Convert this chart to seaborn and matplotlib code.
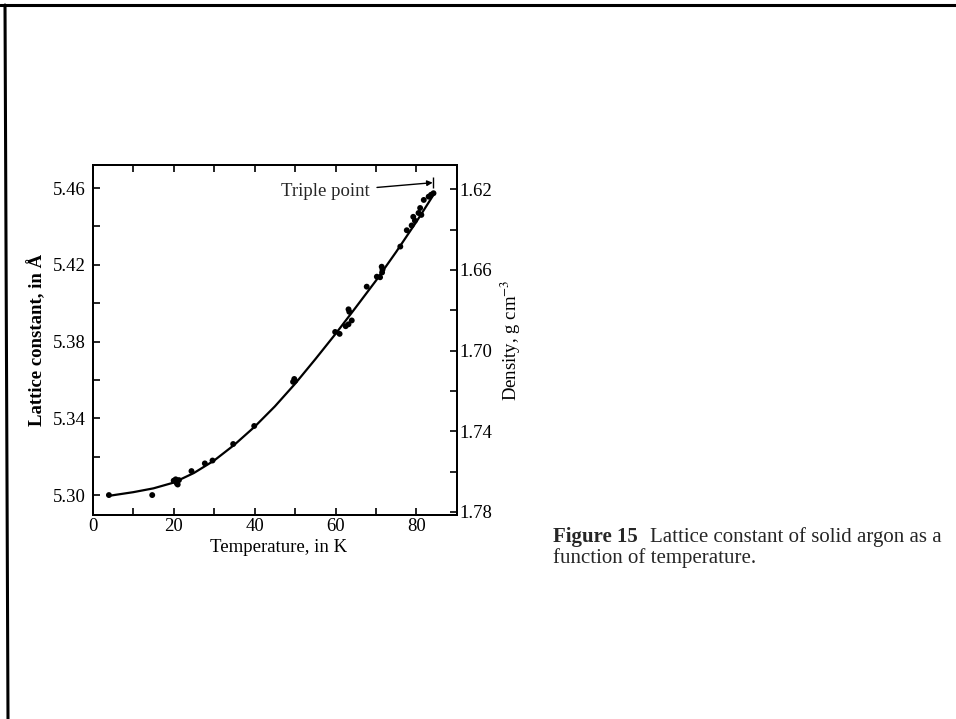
import matplotlib
matplotlib.use("Agg")
import pandas as pd
import matplotlib.pyplot as plt
import seaborn as sns
from matplotlib.lines import Line2D
from matplotlib.ticker import MultipleLocator

# measured points: temperature (K) and lattice constant (angstrom)
temp_pts = [4.0, 14.7, 20.0, 20.5, 20.8, 21.0, 21.3, 24.4, 27.7, 29.6,
            34.7, 39.9, 49.5, 49.8, 50.0, 59.9, 61.0, 62.5, 63.2, 63.4,
            63.2, 64.0, 67.7, 70.2, 71.0, 71.4, 71.6, 71.5, 76.0, 77.6,
            78.8, 79.6, 79.2, 80.5, 80.9, 81.2, 81.8, 83.0, 83.6, 84.2]
lattice_pts = [5.3000, 5.3000, 5.3075, 5.3082, 5.3060, 5.3055, 5.3078, 5.3125, 5.3165, 5.3180,
               5.3266, 5.3360, 5.3590, 5.3605, 5.3595, 5.3850, 5.3840, 5.3880, 5.3968, 5.3955,
               5.3890, 5.3910, 5.4086, 5.4138, 5.4135, 5.4190, 5.4175, 5.4160, 5.4295, 5.4380,
               5.4405, 5.4430, 5.4450, 5.4470, 5.4496, 5.4460, 5.4538, 5.4555, 5.4565, 5.4573]

# smooth curve drawn through the data
temp_curve = [4, 10, 15, 20, 25, 30, 35, 40, 45, 50, 55, 60, 65, 70, 75, 80, 84]
lattice_curve = [5.2996, 5.3015, 5.3035, 5.3065, 5.3115, 5.3180, 5.3262, 5.3356, 5.3462,
                 5.3580, 5.3708, 5.3840, 5.3978, 5.4118, 5.4268, 5.4425, 5.4558]

x_ticks = [0, 20, 40, 60, 80]
lattice_ticks = [5.30, 5.34, 5.38, 5.42, 5.46]
density_ticks = [1.62, 1.66, 1.70, 1.74, 1.78]

# triple point marker
triple_T = 84.2
triple_a = (5.4600, 5.4660)
arrow_tip = (84.0, 5.4628)
arrow_text = (68.4, 5.4580)

pts = pd.DataFrame({"T": temp_pts, "a": lattice_pts})
curve = pd.DataFrame({"T": temp_curve, "a": lattice_curve})

sns.set_theme(style="white")
plt.rcParams["font.family"] = ["Liberation Serif", "DejaVu Serif"]
plt.rcParams["mathtext.fontset"] = "stix"

fig = plt.figure(figsize=(9.56, 7.19), dpi=100)
ax = fig.add_axes([0.097, 0.2837, 0.381, 0.4868])

sns.lineplot(data=curve, x="T", y="a", ax=ax, color="black", linewidth=1.6)
sns.scatterplot(data=pts, x="T", y="a", ax=ax, color="black", s=18, edgecolor="none")

ax.set_xlim(0, 90)
ax.set_ylim(5.2896, 5.472)
ax.set_xticks(x_ticks)
ax.set_yticks(lattice_ticks)
ax.set_yticklabels([f"{v:.2f}" for v in lattice_ticks])
ax.xaxis.set_minor_locator(MultipleLocator(10))
ax.yaxis.set_minor_locator(MultipleLocator(0.02))
ax.tick_params(which="both", direction="in", top=True, bottom=True, left=True, right=False,
               width=1.2, length=5, labelsize=13.5, colors="black")
ax.tick_params(axis="y", pad=5)
ax.tick_params(axis="x", pad=2)

for s in ax.spines.values():
    s.set_linewidth(1.4)
    s.set_color("black")

ax.set_xlabel("Temperature, in K", fontsize=13.5, color="black")
ax.set_ylabel("Lattice constant, in Å", fontsize=13.5, fontweight="bold", color="black")
ax.yaxis.set_label_coords(-0.129, 0.5)
ax.xaxis.set_label_coords(0.51, -0.068)

# density axis on the right
ax2 = ax.twinx()
ax2.set_ylim(1.7815, 1.608)
ax2.set_yticks(density_ticks)
ax2.set_yticklabels([f"{v:.2f}" for v in density_ticks])
ax2.yaxis.set_minor_locator(MultipleLocator(0.02))
ax2.tick_params(which="both", direction="in", right=True, width=1.2, length=5,
                labelsize=13.5, pad=2, colors="black")
ax2.set_ylabel(r"Density, g cm$^{-3}$", fontsize=13.5, color="black")
ax2.yaxis.set_label_coords(1.115, 0.5)
for s in ax2.spines.values():
    s.set_linewidth(1.4)
    s.set_color("black")

# triple point annotation
ax.vlines(triple_T, triple_a[0], triple_a[1], color="black", linewidth=1)
ax.annotate("Triple point", xy=arrow_tip, xytext=arrow_text, ha="right", va="center",
            fontsize=13.5, arrowprops=dict(arrowstyle="-|>", color="black", lw=1,
                                           mutation_scale=8, shrinkA=3, shrinkB=0))

# caption
fig.text(553 / 956, 1 - 542 / 719, "Figure 15", fontsize=15, fontweight="bold")
fig.text(650 / 956, 1 - 542 / 719, "Lattice constant of solid argon as a", fontsize=15)
fig.text(553 / 956, 1 - 563 / 719, "function of temperature.", fontsize=15)

# scanned page border on top and left
fig.add_artist(Line2D([0, 1], [1 - 5 / 719, 1 - 5 / 719], transform=fig.transFigure,
                      color="black", linewidth=2.2))
fig.add_artist(Line2D([5 / 956, 8 / 956], [1 - 5 / 719, 0], transform=fig.transFigure,
                      color="black", linewidth=2.2))

fig.savefig("out.png", dpi=100)
